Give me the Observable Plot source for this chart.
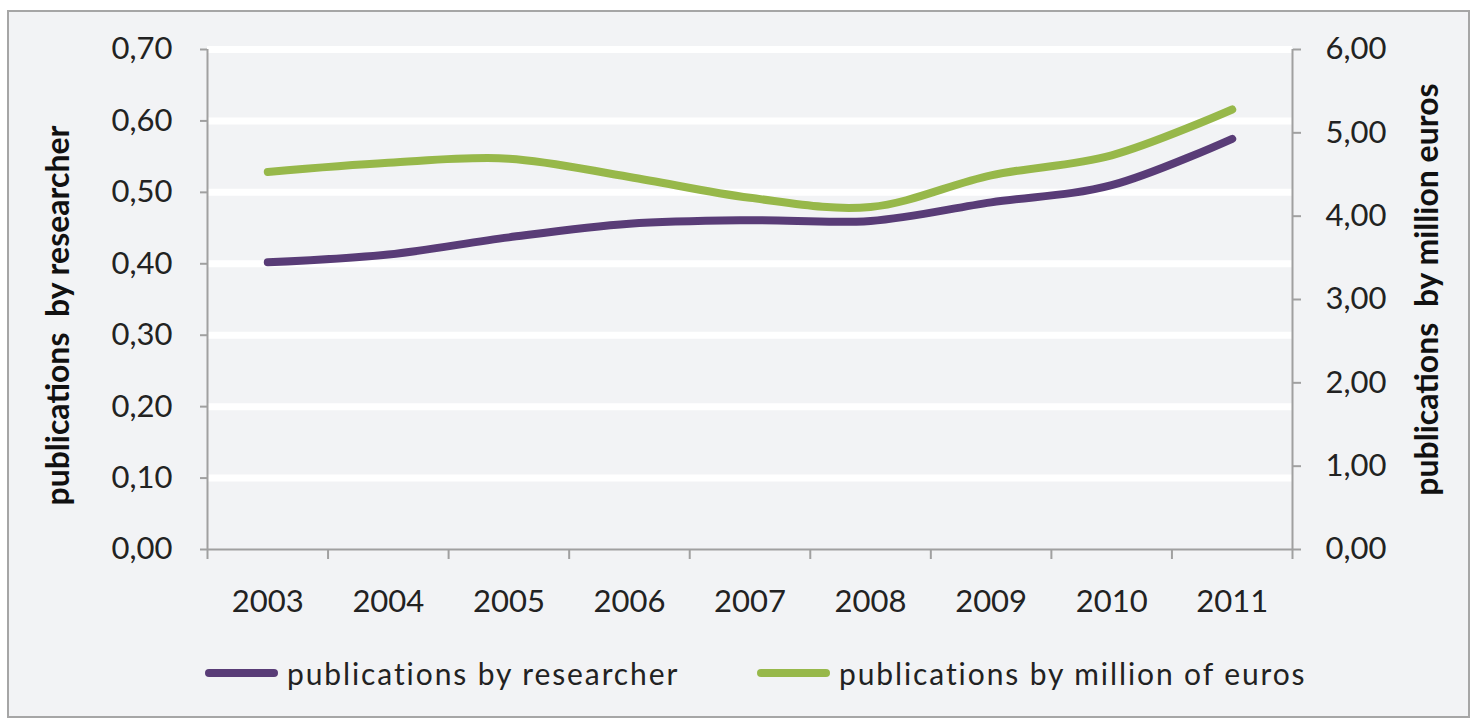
<!DOCTYPE html>
<html>
<head>
<meta charset="utf-8">
<script src="https://cdn.jsdelivr.net/npm/d3@7"></script>
<script src="https://cdn.jsdelivr.net/npm/@observablehq/plot@0.6"></script>
<style>
  html, body { margin: 0; padding: 0; background: #ffffff; }
  #wrap { position: relative; width: 1477px; height: 723px; overflow: hidden; background: #ffffff; }
  #frame { position: absolute; left: 7px; top: 10px; width: 1463px; height: 708px; box-sizing: border-box;
           border: 2px solid #a6a6a6; background: #f2f3f5; }
  #chart { position: absolute; left: 0; top: 0; }
  .leg { position: absolute; top: 650px; height: 46px; display: flex; align-items: center;
         font-family: Lato, "Open Sans", sans-serif; font-size: 30px; color: #222; white-space: nowrap;
         letter-spacing: 1.9px; }
  .sw { width: 73px; height: 8px; border-radius: 4px; margin-right: 9px; }
</style>
</head>
<body>
<div id="wrap">
  <div id="frame"></div>
  <div id="chart"></div>
  <div class="leg" style="left:205px"><div class="sw" style="background:#593c77"></div><span>publications by researcher</span></div>
  <div class="leg" style="left:757px"><div class="sw" style="background:#97b84a"></div><span>publications by million of euros</span></div>
</div>
<script>
const years = [2003, 2004, 2005, 2006, 2007, 2008, 2009, 2010, 2011];
const perResearcher = [0.402, 0.413, 0.437, 0.456, 0.461, 0.460, 0.486, 0.510, 0.575];
const perMillionEuros = [4.53, 4.64, 4.69, 4.47, 4.22, 4.11, 4.49, 4.73, 5.28];
const leftTicks = [0, 0.1, 0.2, 0.3, 0.4, 0.5, 0.6, 0.7];
const rightTicks = [0, 1, 2, 3, 4, 5, 6];
const leftMax = 0.7, rightMax = 6;
const k = leftMax / rightMax;

const researcherData = years.map((y, i) => ({year: y, value: perResearcher[i]}));
const euroData = years.map((y, i) => ({year: y, value: perMillionEuros[i]}));
const boundaries = [...years.map(y => y - 0.5), years[years.length - 1] + 0.5];
const xMin = boundaries[0], xMax = boundaries[boundaries.length - 1];
const fmt = v => v.toFixed(2).replace(".", ",");
const axisColor = "#a0a0a0";

const chart = Plot.plot({
  width: 1477,
  height: 723,
  marginLeft: 207,
  marginRight: 185,
  marginTop: 49,
  marginBottom: 174,
  style: {background: "transparent", fontFamily: "Lato, 'Open Sans', sans-serif", fontSize: "31px", color: "#222"},
  x: {type: "linear", domain: [xMin, xMax]},
  y: {domain: [0, leftMax]},
  marks: [
    Plot.ruleY(leftTicks.slice(1), {stroke: "#ffffff", strokeWidth: 7, x1: xMin, x2: xMax}),
    Plot.ruleX([xMin, xMax], {y1: 0, y2: leftMax, stroke: axisColor, strokeWidth: 2}),
    Plot.ruleY([0], {x1: xMin, x2: xMax, stroke: axisColor, strokeWidth: 2}),
    Plot.axisY({anchor: "left", ticks: leftTicks, tickSize: 7, tickPadding: 28, tickFormat: fmt,
                stroke: axisColor, strokeWidth: 2, color: "#222", label: null}),
    Plot.axisY({anchor: "right", ticks: rightTicks.map(v => v * k), tickSize: 8, tickPadding: 25,
                tickFormat: v => fmt(v / k), stroke: axisColor, strokeWidth: 2, color: "#222", label: null}),
    Plot.axisX({anchor: "bottom", ticks: boundaries, tickSize: 10, tickFormat: () => "",
                stroke: axisColor, strokeWidth: 2, label: null}),
    Plot.axisX({anchor: "bottom", ticks: years, tickSize: 0, tickPadding: 40, tickFormat: d => String(d),
                color: "#222", label: null}),
    Plot.line(researcherData, {x: "year", y: "value", stroke: "#593c77", strokeWidth: 8,
                strokeLinecap: "round", strokeLinejoin: "round", curve: "cardinal"}),
    Plot.line(euroData, {x: "year", y: d => d.value * k, stroke: "#97b84a", strokeWidth: 8,
                strokeLinecap: "round", strokeLinejoin: "round", curve: "cardinal"}),
    Plot.text(["publications  by researcher"], {frameAnchor: "left", textAnchor: "middle", rotate: -90,
                dx: -149, dy: 16, fontWeight: "bold", fontSize: 32, fill: "#111"}),
    Plot.text(["publications  by million euros"], {frameAnchor: "right", textAnchor: "middle", rotate: -90,
                dx: 135, dy: -10, fontWeight: "bold", fontSize: 32, fill: "#111"})
  ]
});
document.getElementById("chart").appendChild(chart);
</script>
</body>
</html>
